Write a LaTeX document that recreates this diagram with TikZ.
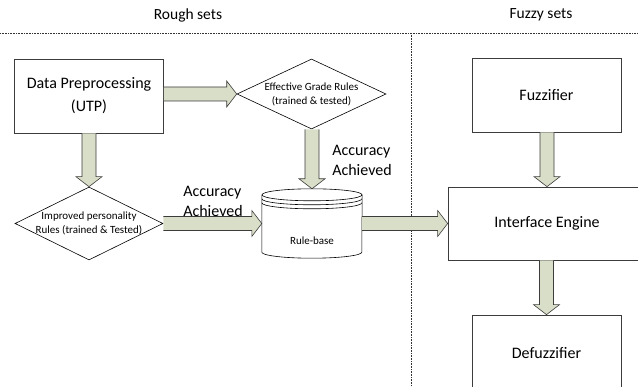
\documentclass[tikz,border=0pt]{standalone}
\usepackage{fontspec}
\setmainfont{Carlito}
\usetikzlibrary{shapes.geometric,calc}
\definecolor{arrowfill}{RGB}{216,222,200}
\definecolor{edgegray}{RGB}{60,60,60}
% block arrows between named anchors
\newcommand{\rightblock}[2]{%
  \filldraw[blockarrow] ($(#1 |- #2)+(0,-7)$) -- ($(#2)+(-10,-7)$) -- ($(#2)+(-10,-13)$)
    -- (#2) -- ($(#2)+(-10,13)$) -- ($(#2)+(-10,7)$) -- ($(#1 |- #2)+(0,7)$);}
\newcommand{\downblock}[2]{%
  \filldraw[blockarrow] ($(#1 -| #2)+(-7,0)$) -- ($(#2)+(-7,-10)$) -- ($(#2)+(-13,-10)$)
    -- (#2) -- ($(#2)+(13,-10)$) -- ($(#2)+(7,-10)$) -- ($(#1 -| #2)+(7,0)$);}
\begin{document}
\begin{tikzpicture}[x=1pt, y=-1pt,
    blockarrow/.style ={fill=arrowfill, draw=edgegray, line width=0.6pt, line join=miter},
    process/.style ={rectangle, draw=edgegray, fill=white, line width=0.7pt, align=center,
        font=\fontsize{16}{23}\selectfont},
    decision/.style ={diamond, draw=black, fill=white, line width=0.6pt, inner sep=0pt},
    smalltext/.style ={font=\fontsize{11}{14}\selectfont, align=center},
    header/.style ={font=\fontsize{15.5}{19}\selectfont},
    note/.style ={font=\fontsize{16}{20}\selectfont, align=left},
    divider/.style ={densely dotted, draw=black!80, line width=0.6pt}]
   \useasboundingbox (0,0) rectangle (638,387);
   \clip (0,0) rectangle (638,387);
   % column titles and dividers
   \node[header] (rough) at (188,15) {Rough sets};
   \node[header] (fuzzy) at (541,15) {Fuzzy sets};
   \draw[divider] (0,33) -- (638,33);
   \draw[divider] (411,33) -- (411,387);
   % rough sets side
   \node[process, minimum width=149pt, minimum height=74pt] (DP) at (89,96)
       {Data Preprocessing\\(UTP)};
   \node[decision, minimum width=149pt, minimum height=70pt,
       label={[smalltext]center:Effective Grade Rules\\(trained \& tested)}] (EG) at (311.5,94) {};
   \node[decision, minimum width=148pt, minimum height=73pt,
       label={[smalltext]center:Improved personality\\Rules (trained \& Tested)}] (IP) at (89,223.5) {};
   \node[minimum width=100pt, minimum height=69pt, inner sep=0pt,
       label={[smalltext, yshift=-17pt]center:Rule-base}] (RB) at (312,223.5) {};
   % rule-base drum
   \draw[line width=0.6pt]
       ($(RB.north west)+(0,6)$) -- ($(RB.south west)+(0,-6)$)
       arc[start angle=180, end angle=0, x radius=50, y radius=6]
       -- ($(RB.north east)+(0,6)$);
   \draw[line width=0.6pt] ($(RB.north)+(0,6)$) ellipse [x radius=50, y radius=6];
   \foreach \d in {4,8}
     \draw[line width=0.6pt] ($(RB.north west)+(0,6+\d)$)
       arc[start angle=180, end angle=0, x radius=50, y radius=6];
   % fuzzy sets side
   \node[process, minimum width=149pt, minimum height=74pt] (FZ) at (546.5,95) {Fuzzifier};
   \node[process, minimum width=198pt, minimum height=73pt] (IE) at (547,223.5) {Interface Engine};
   \node[process, minimum width=149pt, minimum height=76pt] (DF) at (546.5,353) {Defuzzifier};
   % connectors
   \rightblock{DP.east}{EG.west}
   \downblock{DP.south}{IP.north}
   \downblock{EG.south}{RB.north}
   \rightblock{IP.east}{RB.west}
   \rightblock{RB.east}{IE.west}
   \downblock{FZ.south}{IE.north}
   \downblock{IE.south}{DF.north}
   % labels on the accepted paths
   \node[note] (acc1) at (213,201) {Accuracy\\Achieved};
   \node[note] (acc2) at (362,160) {Accuracy\\Achieved};
\end{tikzpicture}
\end{document}
